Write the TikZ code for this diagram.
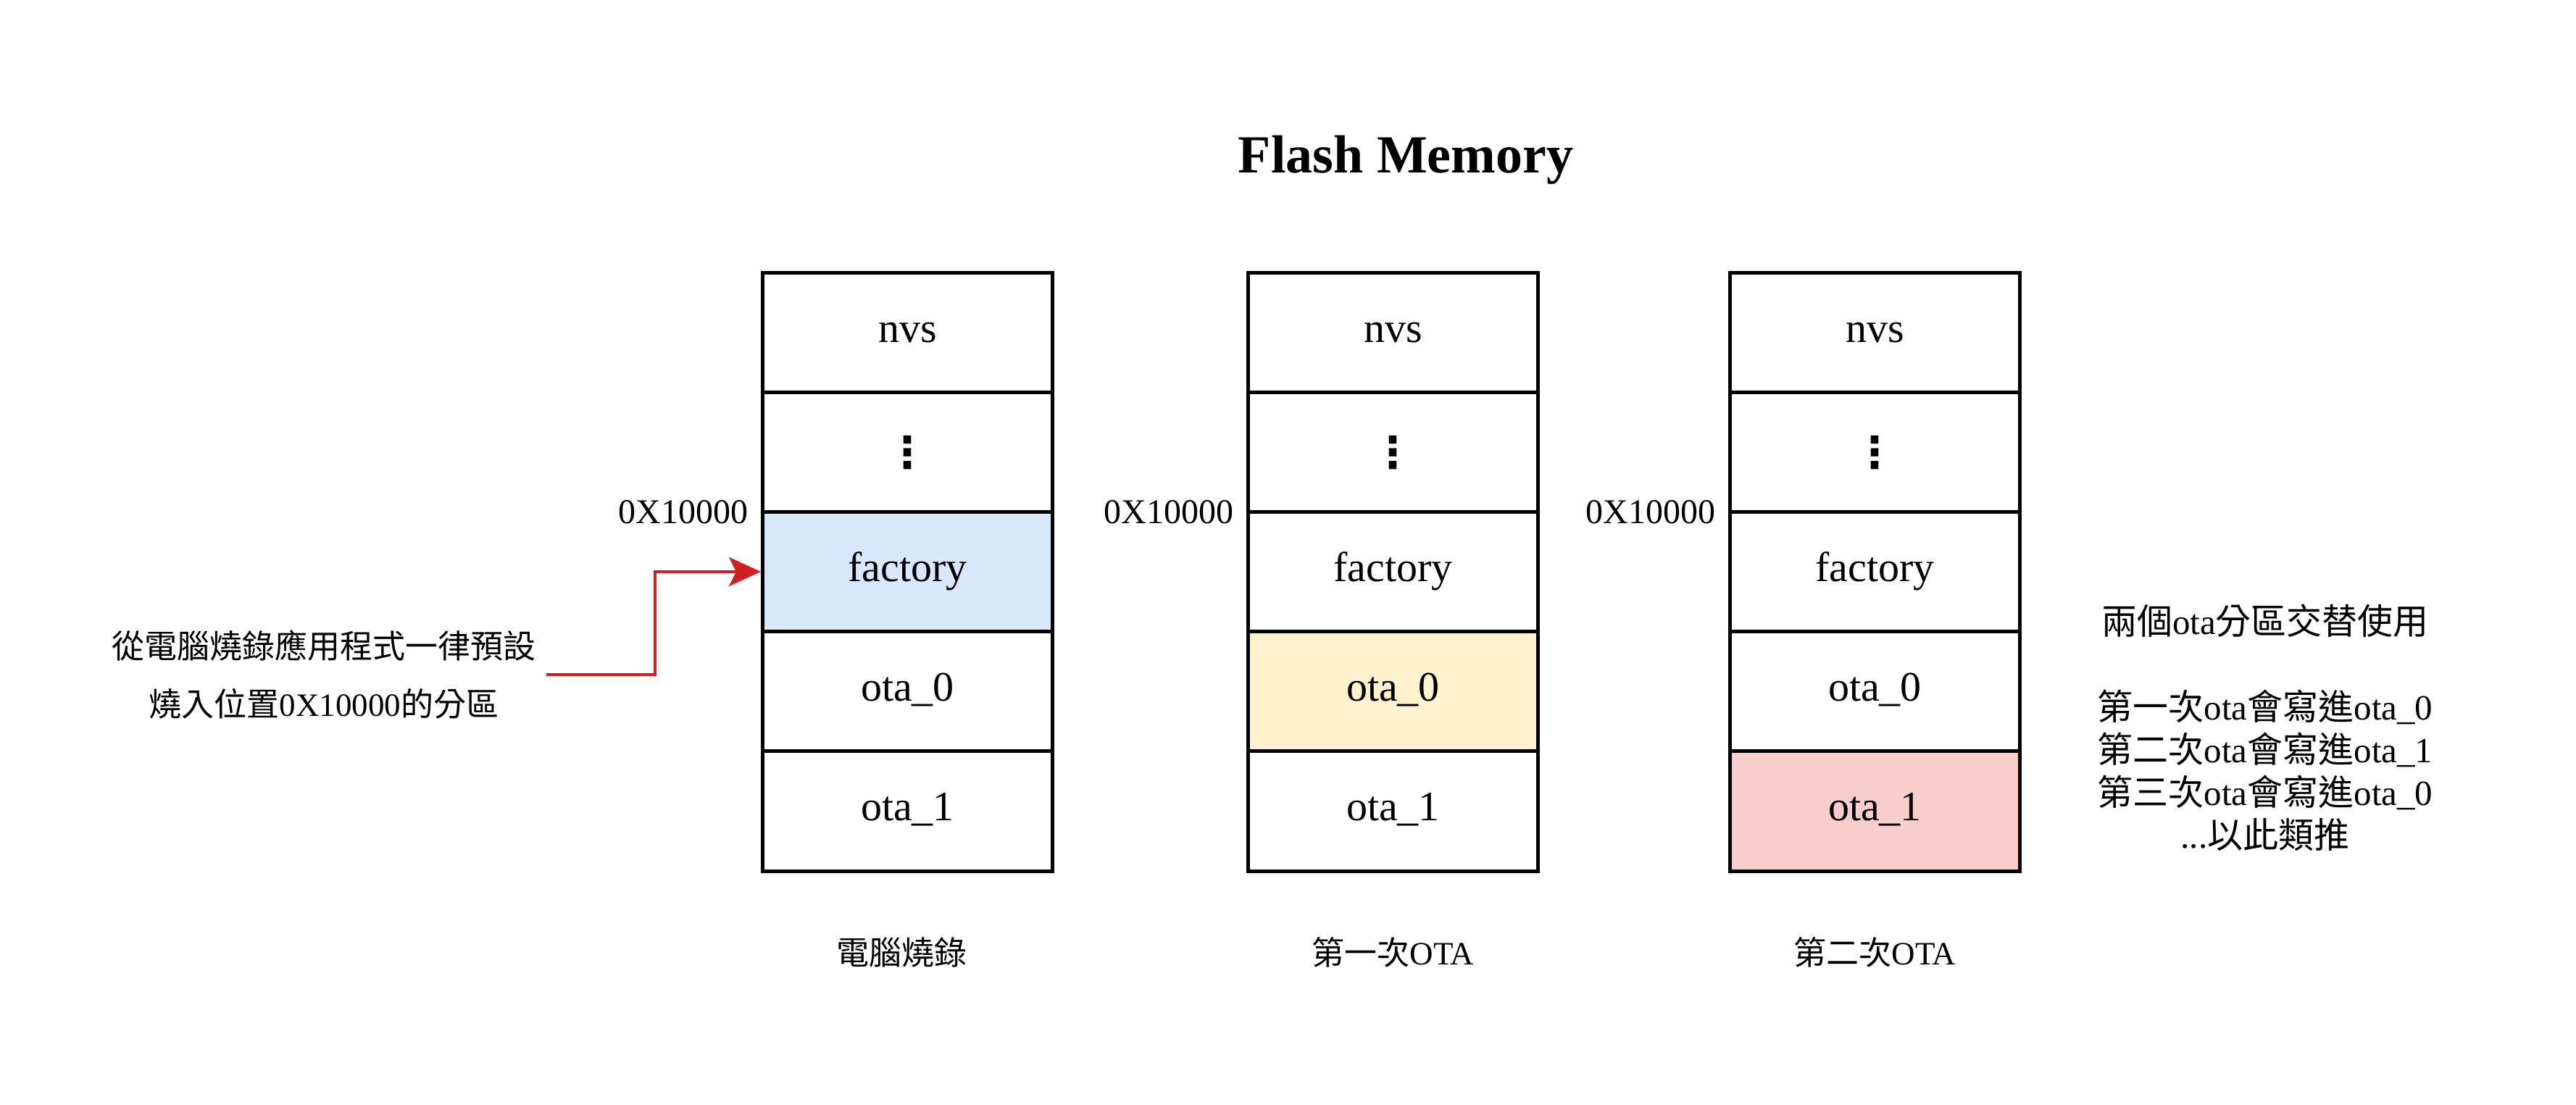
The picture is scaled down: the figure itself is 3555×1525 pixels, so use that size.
\documentclass[tikz,border=0pt]{standalone}
\usepackage{fontspec}
\setmainfont{Liberation Serif}
\newfontfamily\cjk{Noto Sans CJK TC}
\newfontfamily\dotsfont{DejaVu Sans}
\usetikzlibrary{positioning,matrix,arrows.meta}
\definecolor{factoryblue}{HTML}{DAE8FC}
\definecolor{otayellow}{HTML}{FFF2CC}
\definecolor{otared}{HTML}{F8CECC}
\definecolor{burnred}{RGB}{208,32,32}
\tikzset{
    flash cell/.style={
        rectangle,
        minimum width=200pt,
        minimum height=82.6pt,
        text height=20pt,
        text depth=6.6pt,
        fill=white,
        draw=black,
        line width=2.5pt,
        inner sep=0pt,
        outer sep=0pt,
        font=\fontsize{29}{34}\selectfont
    },
    flash column/.style={
        matrix of nodes,
        row sep=-2.5pt,
        inner sep=0pt,
        outer sep=0pt,
        nodes={flash cell}
    },
    dots cell/.style={font=\dotsfont\bfseries\fontsize{30}{30}\selectfont,
        text height=22pt, text depth=0pt},
    title label/.style={font=\bfseries\fontsize{37}{44}\selectfont, inner sep=0pt},
    addr label/.style={font=\fontsize{24}{28}\selectfont, inner sep=0pt},
    caption label/.style={font=\fontsize{22.5}{28}\selectfont, inner sep=0pt},
    note label/.style={font=\fontsize{22.5}{40}\selectfont, align=center, inner sep=0pt},
    burn arrow/.style={draw=burnred, line width=2pt, shorten >=1.25pt,
        -{Stealth[length=22pt,width=20pt,inset=5pt]}}
}

\begin{document}
\begin{tikzpicture}[x=0.5pt, y=-0.5pt]
\useasboundingbox (0,0) rectangle (3555,1525);

\node[title label] (title) at (1940,221) {Flash Memory};

% Three flash layouts (m1, m2, m3), cells named m-row-column
\matrix[flash column] (m1) at (1252.5,789) {
    nvs \\
    |[dots cell]| ⋮ \\
    |[fill=factoryblue]| factory \\
    ota\_0 \\
    ota\_1 \\
};
\matrix[flash column] (m2) at (1922.5,789) {
    nvs \\
    |[dots cell]| ⋮ \\
    factory \\
    |[fill=otayellow]| ota\_0 \\
    ota\_1 \\
};
\matrix[flash column] (m3) at (2587.5,789) {
    nvs \\
    |[dots cell]| ⋮ \\
    factory \\
    ota\_0 \\
    |[fill=otared]| ota\_1 \\
};

% Start address of factory
\node[addr label, left=10pt of m1-3-1.north west] (addr1) {0X10000};
\node[addr label, left=10pt of m2-3-1.north west] (addr2) {0X10000};
\node[addr label, left=10pt of m3-3-1.north west] (addr3) {0X10000};

\node[caption label] (cap1) at ([xshift=-4pt, yshift=-55pt]m1.south) {{\cjk 電腦燒錄}};
\node[caption label] (cap2) at ([yshift=-55pt]m2.south) {{\cjk 第一次}OTA};
\node[caption label] (cap3) at ([yshift=-55pt]m3.south) {{\cjk 第二次}OTA};

\node[note label, inner sep=7pt] (burn note) at (447,931)
    {{\cjk 從電腦燒錄應用程式一律預設}\\{\cjk 燒入位置}0X10000{\cjk 的分區}};
\node[note label, font=\fontsize{24.5}{29.5}\selectfont] (ota note) at (3126,1004)
    {{\cjk 兩個}ota{\cjk 分區交替使用}\\[29.5pt]
     {\cjk 第一次}ota{\cjk 會寫進}ota\_0\\
     {\cjk 第二次}ota{\cjk 會寫進}ota\_1\\
     {\cjk 第三次}ota{\cjk 會寫進}ota\_0\\
     ...{\cjk 以此類推}};

\draw[burn arrow] (burn note.east) -- ++(150,0) |- (m1-3-1.west);

\end{tikzpicture}
\end{document}
